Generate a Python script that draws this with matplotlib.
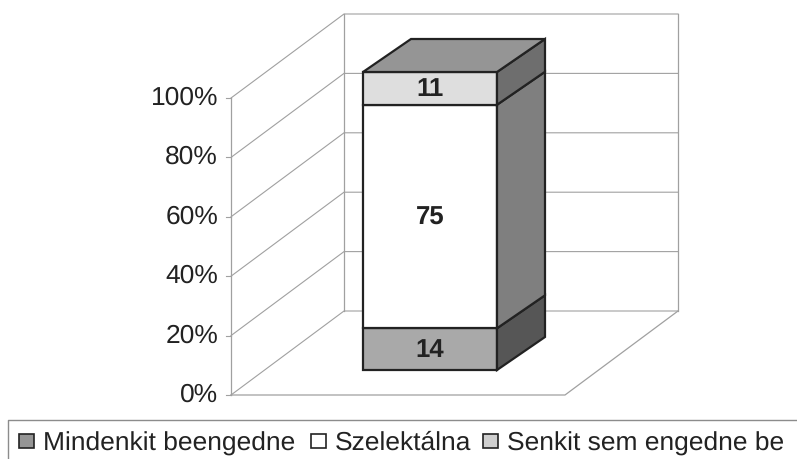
import matplotlib
matplotlib.use("Agg")
import matplotlib.pyplot as plt
from matplotlib.patches import Polygon, Rectangle

plt.rcParams['font.family'] = ['Liberation Sans', 'DejaVu Sans']
plt.rcParams['text.hinting'] = 'none'

# data
series_names = ["Mindenkit beengedne", "Szelektálna", "Senkit sem engedne be"]
series_values = [14, 75, 11]
tick_values = [0, 20, 40, 60, 80, 100]
tick_labels = ["0%", "20%", "40%", "60%", "80%", "100%"]

# colours for front / side of each segment
front_colors = ["#a9a9a9", "#ffffff", "#dedede"]
side_colors = ["#565656", "#7f7f7f", "#6e6e6e"]
top_color = "#959595"
edge = "#222222"
grid = "#a0a0a0"

# 3d box geometry in pixels
x_front, x_floor_right = 231, 565
y_zero, y_full = 396, 99
wall_dx, wall_dy = 113, -84
bar_left, bar_right = 363, 497
bar_bottom, bar_top = 371, 73
bar_dx, bar_dy = 48, -33


def wall_y(v):
    return y_zero + (y_full - y_zero) * v / 100


def bar_y(v):
    return bar_bottom + (bar_top - bar_bottom) * v / 100


fig = plt.figure(figsize=(7.97, 4.6), dpi=100)
ax = fig.add_axes([0, 0, 1, 1])
ax.set_xlim(0, 797)
ax.set_ylim(460, 0)
ax.axis("off")

# walls and gridlines
x_back = x_front + wall_dx
x_back_right = x_floor_right + wall_dx
for v, lab in zip(tick_values, tick_labels):
    y = wall_y(v)
    ax.plot([x_front, x_back, x_back_right], [y, y + wall_dy, y + wall_dy], color=grid, lw=0.8, zorder=1)
    ax.plot([x_front - 5, x_front], [y, y], color=grid, lw=0.8, zorder=1)
    ax.text(218, y - 1, lab, ha="right", va="center", fontsize=19, color="#222222")
ax.plot([x_front, x_front], [wall_y(0), wall_y(100)], color=grid, lw=0.9, zorder=1)
ax.plot([x_back, x_back], [wall_y(0) + wall_dy, wall_y(100) + wall_dy], color=grid, lw=0.9, zorder=1)
ax.plot([x_back_right, x_back_right], [wall_y(0) + wall_dy, wall_y(100) + wall_dy], color=grid, lw=0.9, zorder=1)
ax.plot([x_front, x_floor_right, x_back_right], [y_zero, y_zero, y_zero + wall_dy], color=grid, lw=0.9, zorder=1)

# stacked bar
cum = 0
for val, fc, sc in zip(series_values, front_colors, side_colors):
    y0, y1 = bar_y(cum), bar_y(cum + val)
    ax.add_patch(Polygon([(bar_left, y0), (bar_right, y0), (bar_right, y1), (bar_left, y1)],
                         closed=True, fc=fc, ec=edge, lw=1.6, zorder=3))
    ax.add_patch(Polygon([(bar_right, y0), (bar_right + bar_dx, y0 + bar_dy),
                          (bar_right + bar_dx, y1 + bar_dy), (bar_right, y1)],
                         closed=True, fc=sc, ec=edge, lw=1.6, zorder=3))
    ax.text((bar_left + bar_right) / 2, (y0 + y1) / 2, str(val), ha="center", va="center",
            fontsize=18.5, fontweight="bold", color="#222222", zorder=4)
    cum += val
ax.add_patch(Polygon([(bar_left, bar_top), (bar_right, bar_top),
                      (bar_right + bar_dx, bar_top + bar_dy), (bar_left + bar_dx, bar_top + bar_dy)],
                     closed=True, fc=top_color, ec=edge, lw=1.6, zorder=3))

# legend box, runs off the picture
ax.plot([8, 8, 797], [460, 420.5, 420.5], color="#8c8c8c", lw=1.0)
legend_x = [19, 311, 483]
text_x = [43, 335, 507]
text_y = [450.5, 449.8, 450.5]  # agg rounds the no-descender label differently
legend_colors = [top_color, "#ffffff", "#cfcfcf"]
for name, bx, tx, ty, c in zip(series_names, legend_x, text_x, text_y, legend_colors):
    ax.add_patch(Rectangle((bx, 435), 15, 14, fc=c, ec=edge, lw=1.2))
    ax.text(tx, ty, name, ha="left", va="baseline", fontsize=19, color="#222222")

fig.savefig("out.png", dpi=100)
